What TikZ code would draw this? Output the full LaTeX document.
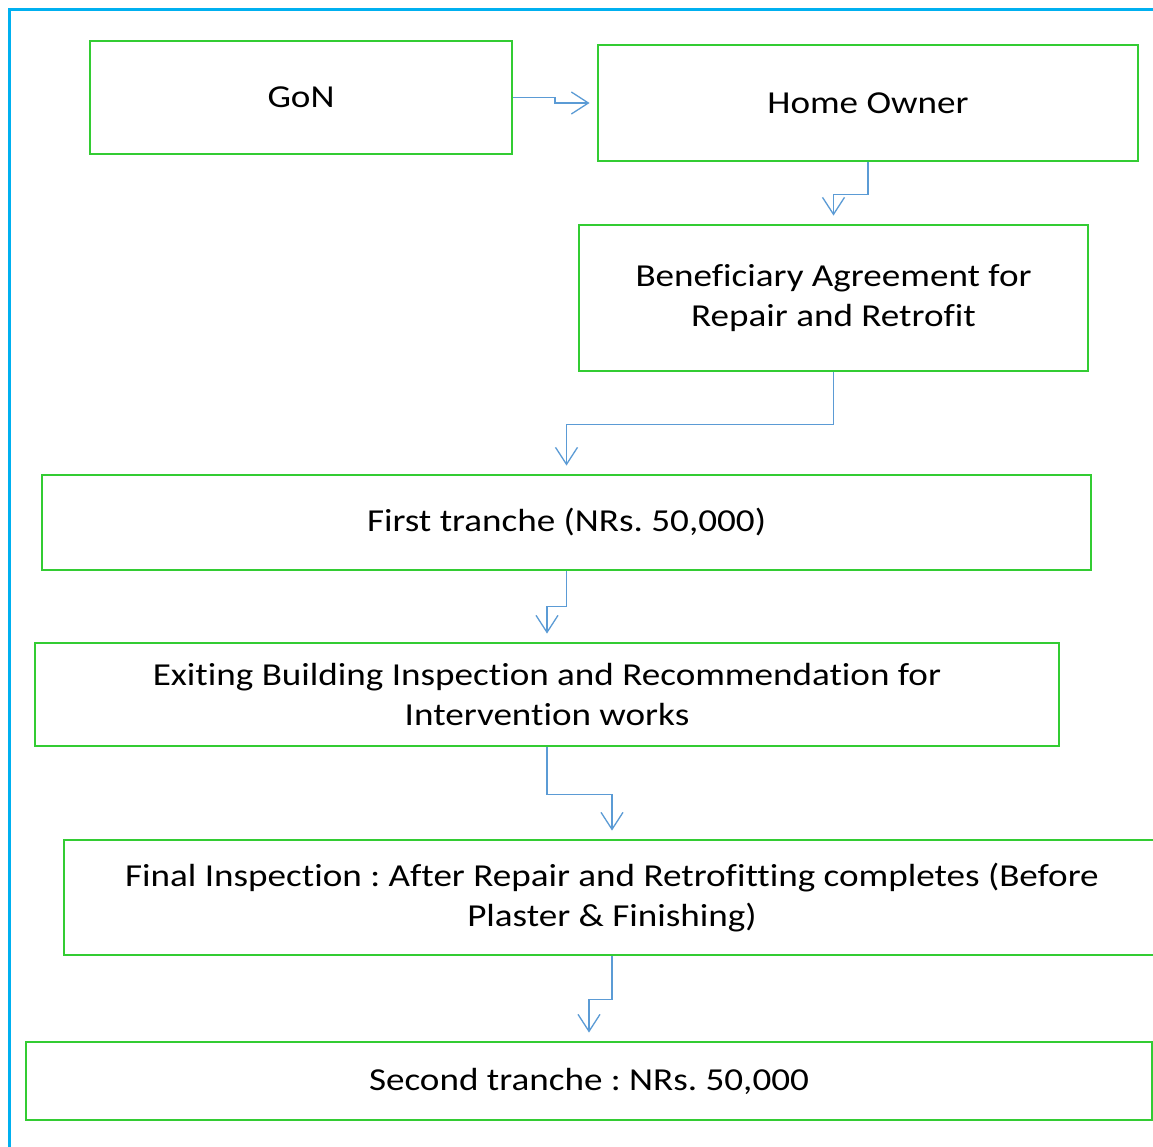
\documentclass[tikz,border=0pt]{standalone}
\usepackage{fontspec}
\setmainfont{Carlito}[FakeStretch=1.16, Ligatures=CommonOff]
\usetikzlibrary{arrows.meta}
\definecolor{boxgreen}{RGB}{51,204,51}
\definecolor{framblue}{RGB}{0,176,240}
\definecolor{connblue}{RGB}{91,155,213}
\tikzset{
  stepbox/.style={draw=boxgreen, line width=2.9pt, inner sep=0pt, align=center,
    font=\fontsize{32}{40}\selectfont\frenchspacing, text=black},
  conn/.style={draw=connblue, line width=1.3pt, -{Straight Barb[length=17pt,width=22pt,line width=1.3pt]}},
}
\begin{document}
\begin{tikzpicture}[x=1pt,y=-1pt]
\useasboundingbox (0,0) rectangle (1153,1147);
\clip (0,0) rectangle (1153,1147);
\fill[white] (0,0) rectangle (1153,1147);
\draw[framblue, line width=3pt] (9,1160) -- (9,10) -- (1160,10);

\node[stepbox, minimum width=422pt, minimum height=113pt] (gon) at (301,97.5) {GoN};
\node[stepbox, minimum width=540pt, minimum height=116pt] (home) at (868,103) {Home Owner};
\node[stepbox, minimum width=509pt, minimum height=146pt] (benef) at (833.5,298) {Beneficiary Agreement for\\Repair and Retrofit};
\node[stepbox, minimum width=1049pt, minimum height=95pt] (first) at (566.5,522.5) {First tranche (NRs. 50,000)};
\node[stepbox, minimum width=1024pt, minimum height=103pt] (exit) at (547,694.5) {Exiting Building Inspection and Recommendation for\\Intervention works};
\node[stepbox, minimum width=1096pt, minimum height=115pt] (final) at (612,897.5) {Final Inspection : After Repair and Retrofitting completes (Before\\Plaster \& Finishing)};
\node[stepbox, minimum width=1126pt, minimum height=78pt] (second) at (589,1081) {Second tranche : NRs. 50,000};

\draw[conn] (gon.east) -- (555,97.5) |- ([xshift=-7pt]home.west);
\draw[conn] (home.south) -- ++(0,32) -| ([yshift=8pt]benef.north);
\draw[conn] (benef.south) -- ++(0,52) -| ([yshift=8pt]first.north);
\draw[conn] (first.south) -- ++(0,35) -| ([yshift=8pt]exit.north);
\draw[conn] (exit.south) -- ++(0,47) -| ([yshift=8pt]final.north);
\draw[conn] (final.south) -- ++(0,43) -| ([yshift=8pt]second.north);
\end{tikzpicture}
\end{document}
